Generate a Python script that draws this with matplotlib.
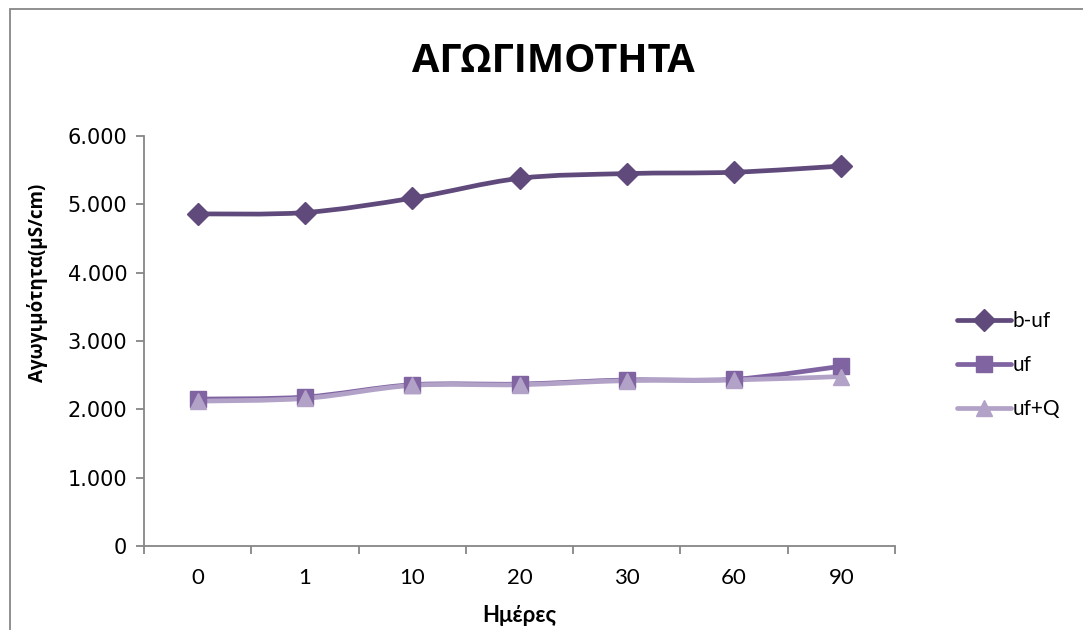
import matplotlib
matplotlib.use("Agg")
import matplotlib.pyplot as plt
from matplotlib.path import Path
from matplotlib.patches import PathPatch, Rectangle
from matplotlib.ticker import FixedLocator, FuncFormatter
from matplotlib.lines import Line2D

days = ["0", "1", "10", "20", "30", "60", "90"]
b_uf = [4860, 4880, 5090, 5380, 5450, 5470, 5560]
uf = [2150, 2180, 2360, 2370, 2430, 2440, 2630]
uf_q = [2120, 2160, 2350, 2360, 2420, 2430, 2480]

series = [
    ("b-uf", b_uf, "#604A7B", "D", 11),
    ("uf", uf, "#8064A2", "s", 12),
    ("uf+Q", uf_q, "#B3A2C7", "^", 12),
]

W, H = 1083, 630
fig = plt.figure(figsize=(W / 100, H / 100), dpi=100)

# chart-area frame
fig.patches.append(Rectangle((10 / W, -0.1), 1.2, 1 - 9 / H + 0.1,
                             transform=fig.transFigure, fill=False,
                             edgecolor="#878787", linewidth=1.3))

ax = fig.add_axes([144 / W, 1 - 546 / H, (895 - 144) / W, (546 - 136) / H])


def smooth_path(xs, ys):
    """Bezier path through the points, Catmull-Rom style control points."""
    pts = list(zip(xs, ys))
    n = len(pts)
    verts = [pts[0]]
    codes = [Path.MOVETO]
    for i in range(n - 1):
        p0 = pts[i - 1] if i > 0 else pts[i]
        p1 = pts[i]
        p2 = pts[i + 1]
        p3 = pts[i + 2] if i + 2 < n else pts[i + 1]
        c1 = (p1[0] + (p2[0] - p0[0]) / 6, p1[1] + (p2[1] - p0[1]) / 6)
        c2 = (p2[0] - (p3[0] - p1[0]) / 6, p2[1] - (p3[1] - p1[1]) / 6)
        verts += [c1, c2, p2]
        codes += [Path.CURVE4] * 3
    return Path(verts, codes)


x = list(range(len(days)))
handles = []
for name, vals, color, marker, ms in series:
    ax.add_patch(PathPatch(smooth_path(x, vals), fill=False, edgecolor=color,
                           linewidth=3.4, capstyle="round", zorder=2))
    ax.plot(x, vals, linestyle="none", marker=marker, markersize=ms,
            color=color, markeredgecolor=color, zorder=3)
    handles.append(Line2D([0], [0], color=color, linewidth=3.4, marker=marker,
                          markersize=ms, solid_capstyle="round", label=name))

ax.set_xlim(-0.5, len(days) - 0.5)
ax.set_ylim(0, 6000)

ax.spines["top"].set_visible(False)
ax.spines["right"].set_visible(False)
for s in ("left", "bottom"):
    ax.spines[s].set_color("#868686")
    ax.spines[s].set_linewidth(1.3)

ax.set_yticks(range(0, 6001, 1000))
ax.yaxis.set_major_formatter(FuncFormatter(lambda v, p: f"{v:,.0f}".replace(",", ".")))
ax.tick_params(axis="y", direction="out", length=6, width=1.3, color="#868686",
               labelsize=15, pad=6)
for lab in ax.get_yticklabels():
    lab.set_fontfamily("DejaVu Sans")

ax.set_xticks(x)
ax.set_xticklabels(days, fontsize=16, family=["Lato", "Open Sans"])
ax.xaxis.set_minor_locator(FixedLocator([i - 0.5 for i in range(len(days) + 1)]))
ax.tick_params(axis="x", which="major", length=0, pad=16)
ax.tick_params(axis="x", which="minor", direction="out", length=6, width=1.3,
               color="#868686")

ax.set_xlabel("Ημέρες", fontsize=16, fontweight="bold",
              family=["Lato", "Open Sans"])
ax.xaxis.set_label_coords(0.5, -(615 - 546) / (546 - 136), transform=ax.transAxes)
ax.xaxis.label.set_va("center")
ax.set_ylabel("Αγωγιμότητα(μS/cm)", fontsize=13.5, fontweight="bold",
              family=["Open Sans", "DejaVu Sans"])
ax.yaxis.set_label_coords(-(144 - 38) / (895 - 144), (546 - 283) / (546 - 136),
                          transform=ax.transAxes)
ax.yaxis.label.set_va("center")

fig.text(553 / W, 1 - 62 / H, "ΑΓΩΓΙΜΟΤΗΤΑ", ha="center", va="center",
         fontsize=28.5, fontweight="bold", family=["Open Sans", "DejaVu Sans"])

fig.legend(handles=handles, loc="center left", bbox_to_anchor=(938 / W, 1 - 365 / H),
           frameon=False, handlelength=2.6, handletextpad=0.1,
           labelspacing=1.15, prop={"family": ["Lato", "Open Sans"], "size": 15})

fig.savefig("out.png", dpi=100)
